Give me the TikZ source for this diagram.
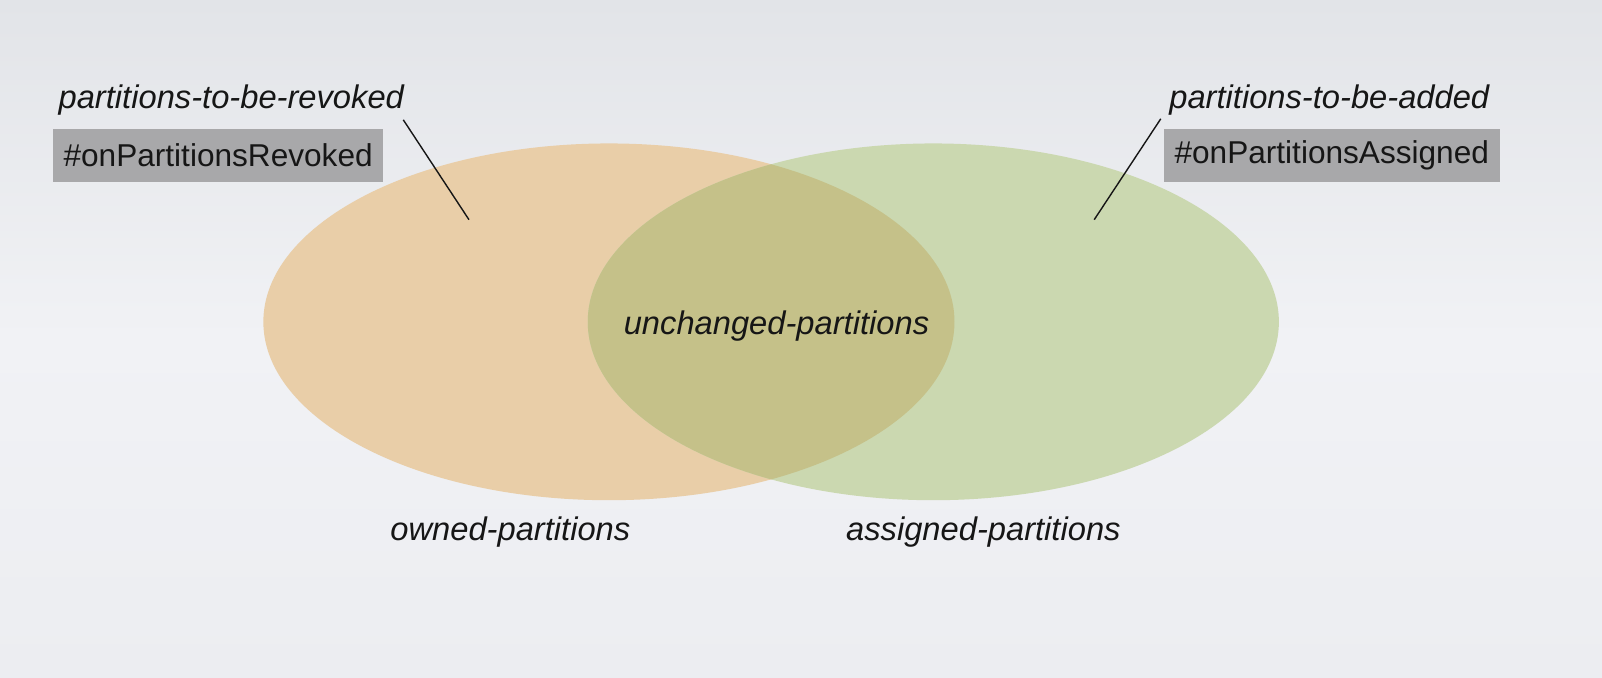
\documentclass[tikz,border=0pt]{standalone}
\usepackage{fontspec}
\setmainfont{Liberation Sans}
\definecolor{bgtop}{RGB}{226,228,232}
\definecolor{bgmid}{RGB}{241,242,245}
\definecolor{bgbot}{RGB}{236,237,241}
\definecolor{ownedc}{RGB}{233,206,168}
\definecolor{assignc}{RGB}{203,216,176}
\definecolor{bothc}{RGB}{197,193,137}
\definecolor{boxc}{RGB}{168,168,170}
\definecolor{inkc}{RGB}{22,22,22}
\tikzset{
  lbl/.style={font=\fontsize{16.35}{19}\selectfont\itshape, text=inkc, inner sep=0pt},
  cbbox/.style={fill=boxc, font=\fontsize{15.8}{19}\selectfont, text=inkc, inner sep=0pt, minimum height=26.6pt},
  leader/.style={draw=inkc, line width=0.7pt}
}
\begin{document}
\begin{tikzpicture}[x=0.5109pt,y=-0.5109pt]
\useasboundingbox (0,0) rectangle (1568,663.6);
\shade[top color=bgtop, bottom color=bgmid] (0,0) rectangle (1568,332);
\shade[top color=bgmid, bottom color=bgbot] (0,332) rectangle (1568,663.6);
% ellipses
\fill[ownedc] (596,315) ellipse [x radius=172.8pt, y radius=89.2pt];
\fill[assignc] (913.5,315) ellipse [x radius=172.8pt, y radius=89.2pt];
\begin{scope}
  \clip (596,315) ellipse [x radius=172.8pt, y radius=89.2pt];
  \fill[bothc] (913.5,315) ellipse [x radius=172.8pt, y radius=89.2pt];
\end{scope}
% labels
\node[lbl, anchor=west] (revoked) at (57,98) {partitions-to-be-revoked};
\node[lbl, anchor=east] (added) at (1458,98) {partitions-to-be-added};
\node[cbbox, minimum width=165pt] (cbrev) at (213.5,152) {\raisebox{-1pt}{\#onPartitionsRevoked}};
\node[cbbox, minimum width=168pt] (cbadd) at (1303.5,152) {\raisebox{-1pt}{\#onPartitionsAssigned}};
\node[lbl] (unch) at (760,319) {unchanged-partitions};
\node[lbl] (owned) at (499.5,521) {owned-partitions};
\node[lbl] (assigned) at (962.5,521) {assigned-partitions};
% leader lines
\coordinate (revin) at (459,215);
\coordinate (addin) at (1071,215);
\draw[leader] (revoked.south east) ++(-1,4) -- (revin);
\draw[leader] (added.south west) ++(-8,3) -- (addin);
\end{tikzpicture}
\end{document}
